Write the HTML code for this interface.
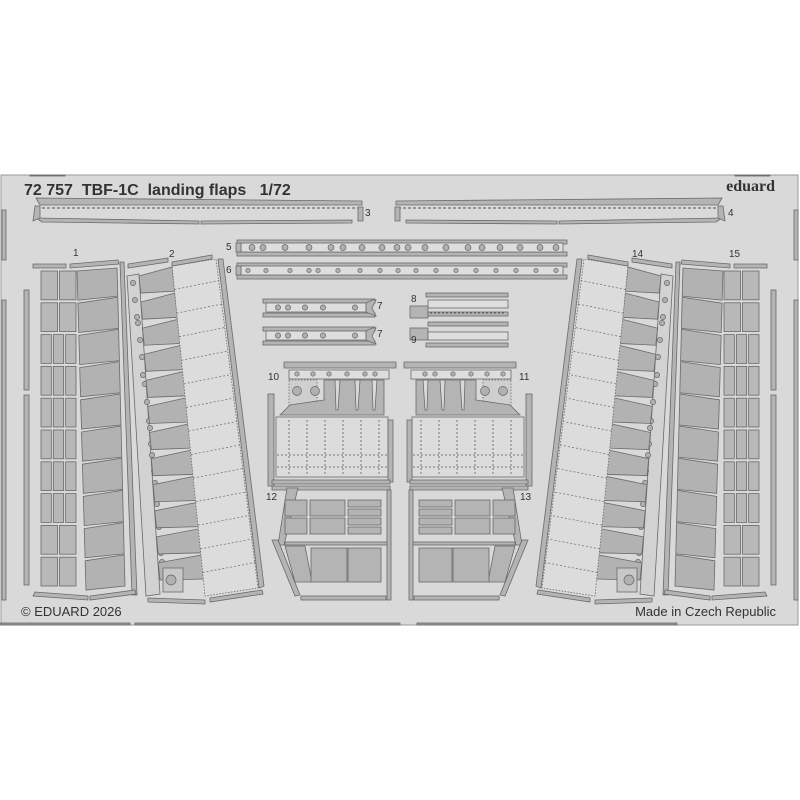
<!DOCTYPE html>
<html><head><meta charset="utf-8">
<style>
html,body{margin:0;padding:0;background:#fff;width:800px;height:800px;overflow:hidden}
svg{display:block}
text{font-family:"Liberation Sans",sans-serif;fill:#333}
</style></head>
<body>
<svg id="s" width="800" height="800" viewBox="0 0 800 800" xmlns="http://www.w3.org/2000/svg">
<rect x="0" y="0" width="800" height="800" fill="#fff"/>
<rect x="1" y="175" width="797" height="450" fill="#d9d9d9" stroke="#999" stroke-width="1"/>
<g id="L"></g>
<g id="R" transform="translate(800,0) scale(-1,1)"></g>
<g id="C"></g>
<text x="24" y="195" font-size="16" font-weight="bold">72 757&#160;&#160;TBF-1C&#160;&#160;landing flaps&#160;&#160;&#160;1/72</text>
<text x="775" y="191" font-size="16" font-weight="bold" text-anchor="end" style="font-family:'Liberation Serif',serif">eduard</text>
<text x="21" y="616" font-size="13">© EDUARD 2026</text>
<text x="776" y="616" font-size="13" text-anchor="end">Made in Czech Republic</text>
<g font-size="10">
<text x="365" y="216">3</text><text x="728" y="216">4</text>
<text x="73" y="256">1</text><text x="169" y="257">2</text>
<text x="632" y="257">14</text><text x="729" y="257">15</text>
<text x="226" y="250">5</text><text x="226" y="273">6</text>
<text x="377" y="309">7</text><text x="377" y="337">7</text>
<text x="411" y="302">8</text><text x="411" y="343">9</text>
<text x="268" y="380">10</text><text x="519" y="380">11</text>
<text x="266" y="500">12</text><text x="520" y="500">13</text>
</g>
</svg>
<script>
var NS="http://www.w3.org/2000/svg";
function el(g,t,a){var e=document.createElementNS(NS,t);for(var k in a)e.setAttribute(k,a[k]);g.appendChild(e);return e;}
function P(g,pts,f,extra){var a={points:pts.map(function(p){return p.join(",")}).join(" "),fill:f||"#b4b4b4",stroke:"#6a6a6a","stroke-width":"0.8"};for(var k in extra)a[k]=extra[k];return el(g,"polygon",a);}
function R(g,x,y,w,h,f,extra){var a={x:x,y:y,width:w,height:h,fill:f||"#b4b4b4",stroke:"#6a6a6a","stroke-width":"0.8"};for(var k in extra)a[k]=extra[k];return el(g,"rect",a);}
function C(g,x,y,r){return el(g,"circle",{cx:x,cy:y,r:r,fill:"#b0b0b0",stroke:"#666","stroke-width":"0.7"});}
function lerp(a,b,t){return [a[0]+(b[0]-a[0])*t,a[1]+(b[1]-a[1])*t];}
function bar(g){
 P(g,[[36,198],[362,201],[362,205],[40,205]]);
 P(g,[[36,218],[199,221],[199,224],[42,222]]);P(g,[[201,221],[352,220],[352,223],[201,224]]);
 P(g,[[35,206],[40,206],[40,218],[33,221]]);P(g,[[358,207],[363,207],[363,221],[358,221]]);
 el(g,"line",{x1:42,y1:208,x2:358,y2:208,stroke:"#555","stroke-width":"1","stroke-dasharray":"3,2"});
}
function side(g){
 R(g,2,210,4,50,"#b4b4b4");R(g,2,300,4,300,"#b4b4b4");
 R(g,24,290,5,100,"#b4b4b4");R(g,24,395,5,190,"#b4b4b4");
 P(g,[[33,264],[66,264],[66,268],[33,268]]);P(g,[[70,264],[118,260],[119,264],[70,268]]);
 P(g,[[120,262],[124,262],[137,595],[132,595]]);
 P(g,[[35,592],[88,596],[88,600],[33,596]]);P(g,[[90,596],[135,590],[136,594],[90,600]]);
 var rows=10,top=270,bot=588,h=(bot-top)/rows;
 for(var i=0;i<rows;i++){var y=top+i*h;
  var sub=(i>=2&&i<=7)?3:2;var w=(76-41-2*(sub-1))/sub;
  for(var j=0;j<sub;j++)R(g,41+j*(w+2),y+1,w,h-3,"#b8b8b8");}
 var A=[77,268],B=[117,268],D=[86,590],E=[125,590];
 for(var i=0;i<10;i++){var t0=i/10,t1=(i+1)/10;var a=lerp(A,D,t0),b=lerp(B,E,t0),c=lerp(B,E,t1),d=lerp(A,D,t1);
  P(g,[[a[0],a[1]+3],[b[0],b[1]-(i?3:0)],[c[0],c[1]-4],[d[0],d[1]]],"#b2b2b2");}
 P(g,[[127,276],[139,274],[160,594],[146,596]],"#d2d2d2");
 var hs=[[131,283],[133,300],[135,317],[136,323],[138,340],[140,357],[141,375],[143,384],[145,402],[147,421],[148,428],[149,444],[150,455],[152,471],[153,483],[155,497],[155,504],[157,527],[158,540],[159,553],[160,562],[161,572]];
 hs.forEach(function(p){C(g,p[0]+2,p[1],2.6);});
 A=[139,272];B=[172,266];D=[160,585];E=[205,580];
 for(var i=0;i<12;i++){var t0=i/12,t1=(i+1)/12;var a=lerp(A,D,t0),b=lerp(B,E,t0),c=lerp(B,E,t1),d=lerp(A,D,t1);
  P(g,[[a[0],a[1]+4],[b[0],b[1]+1],[c[0],c[1]-1],[d[0],d[1]-5]],"#b2b2b2");}
 R(g,163,568,20,24,"#c8c8c8");C(g,171,580,5);
 var pa=[172,266],pb=[216,259],pc=[258,588],pd=[205,596];
 P(g,[pa,pb,pc,pd],"#dcdcdc",{"stroke":"#666","stroke-dasharray":"1.5,1.5"});
 for(var i=1;i<14;i++){var t=i/14;var a=lerp(pa,pd,t),b=lerp(pb,pc,t);
  el(g,"line",{x1:a[0],y1:a[1],x2:b[0],y2:b[1]-2,stroke:"#777","stroke-width":"0.8","stroke-dasharray":"2,2"});}
 P(g,[[218,259],[223,259],[264,586],[259,588]]);
 P(g,[[128,264],[168,258],[168,262],[128,268]]);P(g,[[172,262],[212,255],[212,259],[172,266]]);
 P(g,[[148,598],[205,600],[205,604],[148,602]]);P(g,[[210,598],[262,590],[263,594],[210,602]]);
 R(g,30,175,35,1,"#888");
}
var Lg=document.getElementById("L"),Rg=document.getElementById("R");
side(Lg);side(Rg);bar(Lg);
bar(el(document.getElementById("C"),"g",{transform:"translate(758,0) scale(-1,1)"}));

var c=document.getElementById("C");
function strip(y,holes,r){R(c,237,y-6,330,4);R(c,237,y+6,330,4);R(c,241,y-3,322,9,"#dedede");R(c,236,y-3,5,9);
 holes.forEach(function(x){C(c,x,y+1.5,r);});}
strip(246,[252,263,285,309,331,343,362,382,397,408,425,446,468,482,500,520,540,556],3);
strip(269,[248,266,290,309,318,338,360,380,398,416,436,456,476,496,516,536,556],2.2);
function p7(y){R(c,263,y-7,112,4);R(c,266,y-3,100,9,"#dedede");R(c,263,y+7,112,4);
 [278,288,305,323,355].forEach(function(x){C(c,x,y+1.5,2.6);});
 P(c,[[366,y-3],[372,y-6],[376,y-6],[372,y+2],[376,y+10],[366,y+6]]);}
p7(306);p7(334);
R(c,426,293,82,4);R(c,428,300,80,8,"#dedede");R(c,410,306,18,12);R(c,428,312,80,4);
el(c,"line",{x1:430,y1:313,x2:505,y2:313,stroke:"#555","stroke-dasharray":"2,2"});
R(c,428,322,80,4);R(c,410,328,18,12);R(c,428,332,80,8,"#dedede");R(c,426,343,82,4);
function cab(g){
 P(g,[[284,362],[396,362],[396,368],[284,368]]);
 R(g,289,370,100,9,"#dedede");[297,313,329,347,365,375].forEach(function(x){C(g,x,374,2.2);});
 R(g,289,380,28,30,"#cfcfcf",{"stroke-dasharray":"1.5,1.5"});C(g,297,391,4.5);C(g,315,391,4.5);
 P(g,[[324,380],[384,380],[384,415],[280,415],[290,405],[324,400]]);
 [[335,380],[355,380],[372,380]].forEach(function(p){P(g,[[p[0],p[1]],[p[0]+5,p[1]],[p[0]+3,p[1]+30],[p[0]+1,p[1]+30]],"#d9d9d9");});
 R(g,276,417,112,60,"#dcdcdc");
 for(var i=0;i<6;i++)el(g,"line",{x1:289+i*18,y1:420,x2:289+i*18,y2:474,stroke:"#777","stroke-dasharray":"2,2"});
 el(g,"line",{x1:277,y1:455,x2:387,y2:455,stroke:"#777","stroke-dasharray":"2,2"});
 el(g,"line",{x1:277,y1:467,x2:387,y2:467,stroke:"#777","stroke-dasharray":"2,2"});
 R(g,268,394,6,92);R(g,388,420,5,62);R(g,272,480,118,4);
 P(g,[[272,486],[390,486],[390,490],[272,490]]);
 P(g,[[287,488],[298,488],[284,545],[278,545]]);
 R(g,285,500,22,16);R(g,310,500,35,16);R(g,310,518,35,16);R(g,285,518,22,16);
 for(var i=0;i<4;i++)R(g,348,500+i*9,33,7);
 R(g,285,542,106,3);
 P(g,[[285,546],[305,546],[312,582],[295,582]]);R(g,311,548,36,34);R(g,348,548,33,34);
 P(g,[[272,540],[278,540],[300,595],[295,596]]);R(g,301,596,85,4);R(g,387,490,4,110);
}
cab(c);
var g2=el(c,"g",{transform:"translate(800,0) scale(-1,1)"});cab(g2);
R(c,0,623,130,2,"#999");R(c,135,623,265,2,"#999");R(c,417,623,260,2,"#999");
</script>
</body></html>
